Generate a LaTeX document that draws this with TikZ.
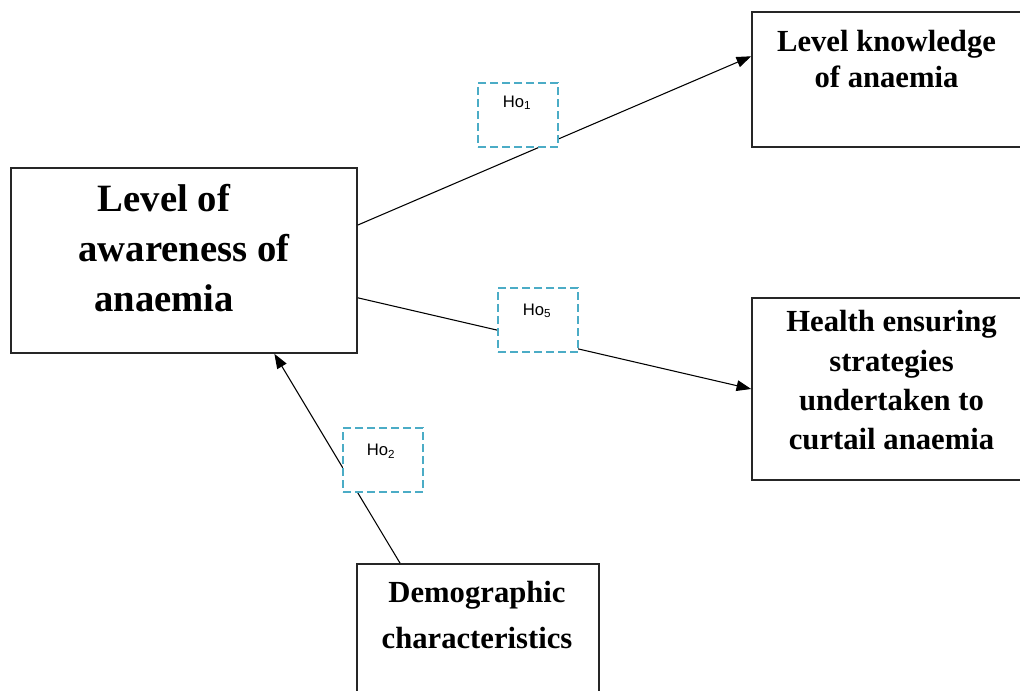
\documentclass[tikz,border=0pt]{standalone}
\usepackage{fontspec}
\setmainfont{Liberation Serif}
\setsansfont{Liberation Sans}
\usetikzlibrary{arrows.meta,calc}

\definecolor{hoblue}{RGB}{75,172,198}

\tikzset{
  box/.style = {draw=black!85, line width=1.2pt, fill=white,
    inner sep=0pt},
  boxtext/.style = {font=\bfseries\fontsize{23}{29}\selectfont,
    align=center, anchor=north, inner sep=0pt},
  hobox/.style = {draw=hoblue, line width=1.3pt, fill=white,
    dash pattern=on 6pt off 3pt, minimum width=60pt,
    minimum height=48pt, inner sep=0pt},
  hotext/.style = {font=\sffamily\fontsize{12.5}{14}\selectfont,
    inner sep=0pt},
  link/.style = {-{Triangle[length=11pt,width=8pt]}, line width=0.8pt},
}

\begin{document}
\begin{tikzpicture}[x=0.75pt, y=-0.75pt]
  \useasboundingbox (0,0) rectangle (1020,691);
  \clip (0,0) rectangle (1020,691);

  % boxes
  \node (main)   [box, minimum width=259.5pt, minimum height=138.75pt]
    at (184,260.5) {};
  \node (know)   [box, minimum width=212.25pt, minimum height=101.25pt]
    at (893.5,79.5) {};
  \node (health) [box, minimum width=212.25pt, minimum height=136.5pt]
    at (893.5,389) {};
  \node (demo)   [box, minimum width=181.5pt, minimum height=117pt]
    at (478,642) {};

  % box texts
  \node (maint) [boxtext, font=\bfseries\fontsize{29}{37.5}\selectfont]
    at ($(main.north)+(0,17)$)
    {Level of\hspace*{30pt}\\awareness of\\anaemia\hspace*{30pt}};
  \node (knowt) [boxtext, font=\bfseries\fontsize{23}{27}\selectfont]
    at ($(know.north)+(-7,19)$) {Level knowledge\\of anaemia};
  \node (healtht) [boxtext, font=\bfseries\fontsize{23}{29.5}\selectfont]
    at ($(health.north)+(-2,13)$)
    {Health ensuring\\strategies\\undertaken to\\curtail anaemia};
  \node (demot) [boxtext, font=\bfseries\fontsize{23}{34}\selectfont]
    at ($(demo.north)+(-1,18)$) {Demographic\\characteristics};

  % connectors
  \draw[link] ($(main.north east)!0.31!(main.south east)$)
    -- ($(know.north west)!0.33!(know.south west)$);
  \draw[link] ($(main.north east)!0.70!(main.south east)$)
    -- (health.west);
  \draw[link] ($(demo.north west)!0.18!(demo.north east)$)
    -- ($(main.south west)!0.76!(main.south east)$);

  % hypotheses
  \node (ho1) [hobox] at (518,115) {};
  \node (ho5) [hobox] at (538,320) {};
  \node (ho2) [hobox] at (383,460) {};
  \node (ho1t) [hotext] at ($(ho1)+(-1,-12)$) {Ho\textsubscript{1}};
  \node (ho5t) [hotext] at ($(ho5)+(-1,-9)$) {Ho\textsubscript{5}};
  \node (ho2t) [hotext] at ($(ho2)+(-2,-9)$) {Ho\textsubscript{2}};
\end{tikzpicture}
\end{document}
